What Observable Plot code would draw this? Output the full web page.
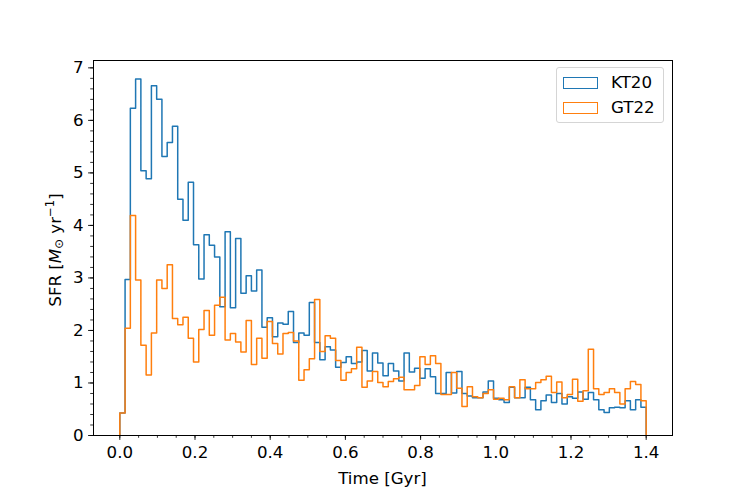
<!DOCTYPE html>
<html><head><meta charset="utf-8">
<script src="https://cdn.jsdelivr.net/npm/d3@7"></script>
<script src="https://cdn.jsdelivr.net/npm/@observablehq/plot@0.6"></script>
<style>
body{margin:0;background:#fff;font-family:"DejaVu Sans",sans-serif;}
#wrap{position:relative;width:747px;height:498px;}
.legend{position:absolute;left:556px;top:67px;width:108px;height:56px;border:1px solid #d5d5d5;border-radius:3px;background:rgba(255,255,255,0.8);box-sizing:border-box;}
.sw{position:absolute;left:6px;width:35px;height:12px;box-sizing:border-box;border-width:1.5px;border-style:solid;}
.lt{position:absolute;left:54px;font-size:16.67px;line-height:20px;color:#000;}
</style></head>
<body><div id="wrap"></div>
<script>
// Bin layout: 100 equal bins from 0 to 1.4 Gyr
const binStart = 0, binEnd = 1.4, nBins = 100;
// SFR per bin [Msun/yr]
const kt20 = [
 0.43, 2.97, 6.23, 6.79, 5.04, 4.89, 6.66, 6.40, 5.31, 5.58,
 5.89, 4.50, 4.10, 4.82, 3.63, 2.98, 3.82, 3.62, 3.40, 2.45,
 3.88, 2.43, 3.75, 2.71, 3.04, 2.75, 3.15, 2.06, 2.24, 1.88,
 2.14, 2.12, 2.36, 1.77, 1.95, 1.91, 2.53, 1.77, 1.44, 1.69,
 1.63, 1.30, 1.39, 1.50, 1.37, 1.40, 1.62, 1.23, 1.57, 1.38,
 1.14, 1.37, 1.23, 1.04, 1.57, 1.21, 1.28, 1.09, 1.27, 1.12,
 0.80, 0.80, 1.20, 0.81, 1.22, 0.80, 0.75, 0.72, 0.72, 0.83,
 1.04, 0.71, 0.68, 0.63, 0.92, 0.72, 0.72, 0.92, 0.68, 0.49,
 0.66, 0.77, 0.63, 0.80, 0.60, 0.74, 0.71, 0.83, 0.69, 0.82,
 0.68, 0.49, 0.44, 0.53, 0.54, 0.53, 0.66, 0.49, 0.68, 0.54];
const gt22 = [
 0.43, 2.04, 4.19, 2.96, 1.72, 1.15, 1.95, 2.96, 2.80, 3.25,
 2.23, 2.11, 2.25, 1.85, 1.40, 2.02, 2.38, 1.91, 2.48, 2.63,
 1.82, 1.94, 1.78, 1.59, 2.19, 1.35, 1.85, 1.47, 2.17, 1.75,
 1.55, 1.94, 1.96, 1.80, 1.05, 1.25, 1.46, 2.59, 1.60, 1.90,
 1.85, 1.43, 1.05, 1.20, 1.27, 1.68, 0.92, 1.04, 1.22, 1.01,
 0.93, 1.03, 1.08, 1.11, 0.87, 0.87, 0.95, 1.50, 1.35, 1.52,
 1.37, 0.78, 0.78, 1.20, 0.90, 0.55, 0.93, 0.74, 0.72, 0.80,
 0.87, 0.69, 0.71, 0.68, 0.93, 0.72, 1.06, 0.89, 0.89, 1.01,
 1.06, 1.13, 0.82, 1.02, 0.72, 0.78, 1.07, 0.65, 0.85, 1.64,
 0.89, 0.78, 0.82, 0.89, 0.82, 0.60, 0.89, 1.03, 0.97, 0.66];
const seriesNames = ["KT20", "GT22"];
const seriesColors = ["#1f77b4", "#ff7f0e"];
const xTicks = [0, 0.2, 0.4, 0.6, 0.8, 1.0, 1.2, 1.4];
const xTickLabels = ["0.0", "0.2", "0.4", "0.6", "0.8", "1.0", "1.2", "1.4"];
const yTicks = [0, 1, 2, 3, 4, 5, 6, 7];
const yTickLabels = ["0", "1", "2", "3", "4", "5", "6", "7"];

const bw = (binEnd - binStart) / nBins;
function stepPoints(vals) {
  const pts = [{x: binStart, y: 0}];
  vals.forEach((v, i) => pts.push({x: binStart + i * bw, y: v}));
  pts.push({x: binEnd, y: 0});
  return pts;
}
const xMinor = d3.range(0, 29).map(i => i * 0.05).filter(v => v <= 1.4 + 1e-9);
const yMinor = d3.range(0, 36).map(i => i * 0.2).filter(v => v <= 7.0 + 1e-9);
const FS = 16.67;

const plot = Plot.plot({
  width: 747, height: 498,
  marginLeft: 93, marginRight: 75, marginTop: 60, marginBottom: 63,
  style: {fontFamily: "DejaVu Sans, sans-serif", fontSize: FS + "px", color: "#000", background: "#fff"},
  x: {domain: [-0.07, 1.47]},
  y: {domain: [0, 7.14]},
  marks: [
    Plot.axisX({ticks: xMinor, tickSize: 2.8, fill: "none", label: null, strokeWidth: 0.8}),
    Plot.axisY({ticks: yMinor, tickSize: 2.8, fill: "none", label: null, strokeWidth: 0.8}),
    Plot.axisX({ticks: xTicks, tickSize: 4.9, tickPadding: 6, strokeWidth: 0.9, label: null,
      tickFormat: d => xTickLabels[xTicks.indexOf(d)] ?? "", fontSize: FS}),
    Plot.axisY({ticks: yTicks, tickSize: 4.9, tickPadding: 5, strokeWidth: 0.9, label: null,
      tickFormat: d => yTickLabels[yTicks.indexOf(d)] ?? "", fontSize: FS}),
    Plot.lineY(stepPoints(kt20), {x: "x", y: "y", curve: "step-after", stroke: seriesColors[0], strokeWidth: 1.5}),
    Plot.lineY(stepPoints(gt22), {x: "x", y: "y", curve: "step-after", stroke: seriesColors[1], strokeWidth: 1.5}),
    Plot.frame({stroke: "#000", strokeWidth: 1})
  ]
});
const wrap = document.getElementById("wrap");
wrap.appendChild(plot);
const svg = d3.select(plot);
// x-axis label
svg.append("text").attr("x", 382.5).attr("y", 479).attr("text-anchor", "middle")
  .attr("dominant-baseline", "middle").attr("font-size", FS).attr("fill", "#000").text("Time [Gyr]");
// y-axis label with math
const yl = svg.append("text").attr("transform", "translate(56,250) rotate(-90)")
  .attr("text-anchor", "middle").attr("dominant-baseline", "middle").attr("font-size", FS).attr("fill", "#000");
yl.append("tspan").text("SFR [");
yl.append("tspan").attr("font-style", "italic").text("M");
yl.append("tspan").attr("font-size", FS * 0.7).attr("dy", 3).text("⊙");
yl.append("tspan").attr("dy", -3).text(" yr");
yl.append("tspan").attr("font-size", FS * 0.7).attr("dy", -6).text("−1");
yl.append("tspan").attr("dy", 6).text("]");
// legend
const lg = document.createElement("div");
lg.className = "legend";
seriesNames.forEach((n, i) => {
  const s = document.createElement("div");
  s.className = "sw"; s.style.top = (9 + 25 * i) + "px"; s.style.borderColor = seriesColors[i];
  lg.appendChild(s);
  const t = document.createElement("div");
  t.className = "lt"; t.style.top = (5 + 25 * i) + "px"; t.textContent = n;
  lg.appendChild(t);
});
wrap.appendChild(lg);
</script></body></html>
